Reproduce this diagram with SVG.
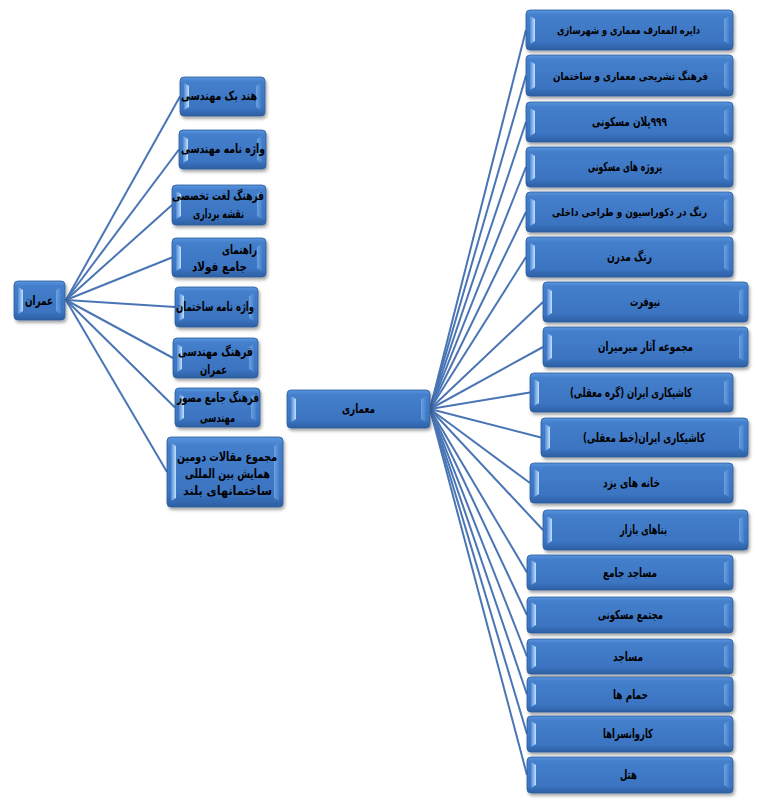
<svg xmlns="http://www.w3.org/2000/svg" width="763" height="804" viewBox="0 0 763 804">
<defs>
<linearGradient id="gO" x1="0" y1="0" x2="0" y2="1">
<stop offset="0" stop-color="#5a95de"/><stop offset="0.12" stop-color="#447fcc"/><stop offset="0.8" stop-color="#3b74c1"/><stop offset="1" stop-color="#2d5fa3"/>
</linearGradient>
<linearGradient id="gL" x1="0" y1="0" x2="1" y2="0">
<stop offset="0" stop-color="#4f8ad6"/><stop offset="1" stop-color="#c4e1fb"/>
</linearGradient>
<linearGradient id="gR" x1="1" y1="0" x2="0" y2="0">
<stop offset="0" stop-color="#4a84d0"/><stop offset="1" stop-color="#8cbdee"/>
</linearGradient>
<filter id="sh" x="-10%" y="-20%" width="130%" height="150%">
<feDropShadow dx="1.5" dy="2.5" stdDeviation="1.5" flood-color="#000" flood-opacity="0.35"/>
</filter>
<style>
.o{fill:url(#gO);stroke:#2c5c9c;stroke-width:0.8;filter:url(#sh)}
.bl{fill:url(#gL)}
.br{fill:url(#gR);opacity:0.6}
text{font-family:"DejaVu Sans",sans-serif;font-weight:bold;font-size:12.5px;fill:#000;text-anchor:middle;direction:rtl;unicode-bidi:embed}
text.long{font-size:11px}
#connectors line{stroke:#4a75b5;stroke-width:2}
</style>
</defs>
<rect width="763" height="804" fill="#fff"/>
<g id="connectors">
<line x1="66" y1="300" x2="180" y2="96.5"/>
<line x1="66" y1="300" x2="179" y2="149.5"/>
<line x1="66" y1="300" x2="172" y2="205"/>
<line x1="66" y1="300" x2="172" y2="257.5"/>
<line x1="66" y1="300" x2="175" y2="307"/>
<line x1="66" y1="300" x2="173" y2="358"/>
<line x1="66" y1="300" x2="175" y2="407.5"/>
<line x1="66" y1="300" x2="167" y2="472"/>
<line x1="430" y1="409" x2="526" y2="30"/>
<line x1="430" y1="409" x2="526" y2="75.5"/>
<line x1="430" y1="409" x2="526" y2="122"/>
<line x1="430" y1="409" x2="526" y2="167"/>
<line x1="430" y1="409" x2="526" y2="212"/>
<line x1="430" y1="409" x2="526" y2="257"/>
<line x1="430" y1="409" x2="543" y2="302"/>
<line x1="430" y1="409" x2="543" y2="347"/>
<line x1="430" y1="409" x2="530" y2="392.5"/>
<line x1="430" y1="409" x2="541" y2="437.5"/>
<line x1="430" y1="409" x2="530" y2="483"/>
<line x1="430" y1="409" x2="543" y2="530"/>
<line x1="430" y1="409" x2="527" y2="572.5"/>
<line x1="430" y1="409" x2="527" y2="615"/>
<line x1="430" y1="409" x2="527" y2="656.5"/>
<line x1="430" y1="409" x2="527" y2="694.5"/>
<line x1="430" y1="409" x2="527" y2="734"/>
<line x1="430" y1="409" x2="527" y2="775"/>
</g>

<g id="n-omran"><rect class="o" x="14" y="281" width="51" height="39" rx="4"/><path class="bl" d="M18 287 L23 290 V311 L18 314Z"/><path class="br" d="M61 287 L56 290 V311 L61 314Z"/><text x="39" y="305" textLength="28" lengthAdjust="spacingAndGlyphs">عمران</text></g>
<g id="n-memari"><rect class="o" x="287" y="390" width="143" height="38" rx="4"/><path class="bl" d="M291 396 L296 399 V419 L291 422Z"/><path class="br" d="M426 396 L421 399 V419 L426 422Z"/><text x="358.5" y="413" textLength="33" lengthAdjust="spacingAndGlyphs">معماری</text></g>

<g id="n-l1"><rect class="o" x="180" y="77" width="85" height="39" rx="4"/><path class="bl" d="M184 83 L189 86 V107 L184 110Z"/><path class="br" d="M261 83 L256 86 V107 L261 110Z"/><text x="219" y="100" textLength="76" lengthAdjust="spacingAndGlyphs">هند بک مهندسی</text></g>
<g id="n-l2"><rect class="o" x="179" y="130" width="87" height="39" rx="4"/><path class="bl" d="M183 136 L188 139 V160 L183 163Z"/><path class="br" d="M262 136 L257 139 V160 L262 163Z"/><text x="223" y="153" textLength="84" lengthAdjust="spacingAndGlyphs">واژه نامه مهندسی</text></g>
<g id="n-l3"><rect class="o" x="172" y="185" width="94" height="40" rx="4"/><path class="bl" d="M176 191 L181 194 V216 L176 219Z"/><path class="br" d="M262 191 L257 194 V216 L262 219Z"/><text x="218" y="200" textLength="92" lengthAdjust="spacingAndGlyphs">فرهنگ لغت تخصصی</text><text x="218.5" y="218" textLength="51" lengthAdjust="spacingAndGlyphs">نقشه برداری</text></g>
<g id="n-l4"><rect class="o" x="172" y="238" width="94" height="39" rx="4"/><path class="bl" d="M176 244 L181 247 V268 L176 271Z"/><path class="br" d="M262 244 L257 247 V268 L262 271Z"/><text x="239.5" y="254" textLength="35" lengthAdjust="spacingAndGlyphs">راهنمای</text><text x="219.5" y="271" textLength="55" lengthAdjust="spacingAndGlyphs">جامع فولاد</text></g>
<g id="n-l5"><rect class="o" x="175" y="287" width="83" height="40" rx="4"/><path class="bl" d="M179 293 L184 296 V318 L179 321Z"/><path class="br" d="M254 293 L249 296 V318 L254 321Z"/><text x="215" y="311" textLength="78" lengthAdjust="spacingAndGlyphs">واژه نامه ساختمان</text></g>
<g id="n-l6"><rect class="o" x="173" y="338" width="85" height="40" rx="4"/><path class="bl" d="M177 344 L182 347 V369 L177 372Z"/><path class="br" d="M254 344 L249 347 V369 L254 372Z"/><text x="215.5" y="356" textLength="75" lengthAdjust="spacingAndGlyphs">فرهنگ مهندسی</text><text x="213.5" y="374" textLength="27" lengthAdjust="spacingAndGlyphs">عمران</text></g>
<g id="n-l7"><rect class="o" x="175" y="388" width="85" height="39" rx="4"/><path class="bl" d="M179 394 L184 397 V418 L179 421Z"/><path class="br" d="M256 394 L251 397 V418 L256 421Z"/><text x="218" y="402" textLength="82" lengthAdjust="spacingAndGlyphs">فرهنگ جامع مصور</text><text x="217.5" y="422" textLength="35" lengthAdjust="spacingAndGlyphs">مهندسی</text></g>
<g id="n-l8"><rect class="o" x="167" y="437" width="116" height="70" rx="4"/><path class="bl" d="M171 443 L176 446 V498 L171 501Z"/><path class="br" d="M279 443 L274 446 V498 L279 501Z"/><text x="227" y="461" textLength="100" lengthAdjust="spacingAndGlyphs">مجموع مقالات دومین</text><text x="227.5" y="478" textLength="85" lengthAdjust="spacingAndGlyphs">همایش بین المللی</text><text x="227.5" y="495" textLength="89" lengthAdjust="spacingAndGlyphs">ساختمانهای بلند</text></g>

<g id="n-r1"><rect class="o" x="526" y="10" width="207" height="40" rx="4"/><path class="bl" d="M530 16 L535 19 V41 L530 44Z"/><path class="br" d="M729 16 L724 19 V41 L729 44Z"/><text class="long" x="628.5" y="34" textLength="143" lengthAdjust="spacingAndGlyphs">دایره المعارف معماری و شهرسازی</text></g>
<g id="n-r2"><rect class="o" x="526" y="55" width="207" height="41" rx="4"/><path class="bl" d="M530 61 L535 64 V87 L530 90Z"/><path class="br" d="M729 61 L724 64 V87 L729 90Z"/><text class="long" x="630.5" y="79.5" textLength="155" lengthAdjust="spacingAndGlyphs">فرهنگ تشریحی معماری و ساختمان</text></g>
<g id="n-r3"><rect class="o" x="526" y="102" width="207" height="40" rx="4"/><path class="bl" d="M530 108 L535 111 V133 L530 136Z"/><path class="br" d="M729 108 L724 111 V133 L729 136Z"/><text x="629.5" y="126" textLength="75" lengthAdjust="spacingAndGlyphs">۹۹۹پلان مسکونی</text></g>
<g id="n-r4"><rect class="o" x="526" y="147" width="207" height="40" rx="4"/><path class="bl" d="M530 153 L535 156 V178 L530 181Z"/><path class="br" d="M729 153 L724 156 V178 L729 181Z"/><text x="625" y="171" textLength="74" lengthAdjust="spacingAndGlyphs">پروژه های مسکونی</text></g>
<g id="n-r5"><rect class="o" x="526" y="192" width="207" height="40" rx="4"/><path class="bl" d="M530 198 L535 201 V223 L530 226Z"/><path class="br" d="M729 198 L724 201 V223 L729 226Z"/><text class="long" x="629.5" y="216" textLength="155" lengthAdjust="spacingAndGlyphs">رنگ در دکوراسیون و طراحی داخلی</text></g>
<g id="n-r6"><rect class="o" x="526" y="237" width="207" height="40" rx="4"/><path class="bl" d="M530 243 L535 246 V268 L530 271Z"/><path class="br" d="M729 243 L724 246 V268 L729 271Z"/><text x="629.5" y="261" textLength="45" lengthAdjust="spacingAndGlyphs">رنگ مدرن</text></g>
<g id="n-r7"><rect class="o" x="543" y="282" width="205" height="40" rx="4"/><path class="bl" d="M547 288 L552 291 V313 L547 316Z"/><path class="br" d="M744 288 L739 291 V313 L744 316Z"/><text x="645" y="306" textLength="30" lengthAdjust="spacingAndGlyphs">نیوفرت</text></g>
<g id="n-r8"><rect class="o" x="543" y="327" width="205" height="40" rx="4"/><path class="bl" d="M547 333 L552 336 V358 L547 361Z"/><path class="br" d="M744 333 L739 336 V358 L744 361Z"/><text x="645.5" y="351" textLength="95" lengthAdjust="spacingAndGlyphs">مجموعه آثار میرمیران</text></g>
<g id="n-r9"><rect class="o" x="530" y="373" width="203" height="39" rx="4"/><path class="bl" d="M534 379 L539 382 V403 L534 406Z"/><path class="br" d="M729 379 L724 382 V403 L729 406Z"/><text x="631" y="396.5" textLength="122" lengthAdjust="spacingAndGlyphs">کاشیکاری ایران (گره معقلی)</text></g>
<g id="n-r10"><rect class="o" x="541" y="418" width="207" height="39" rx="4"/><path class="bl" d="M545 424 L550 427 V448 L545 451Z"/><path class="br" d="M744 424 L739 427 V448 L744 451Z"/><text x="644" y="441.5" textLength="122" lengthAdjust="spacingAndGlyphs">کاشیکاری ایران(خط معقلی)</text></g>
<g id="n-r11"><rect class="o" x="530" y="463" width="203" height="40" rx="4"/><path class="bl" d="M534 469 L539 472 V494 L534 497Z"/><path class="br" d="M729 469 L724 472 V494 L729 497Z"/><text x="631.5" y="487" textLength="57" lengthAdjust="spacingAndGlyphs">خانه های یزد</text></g>
<g id="n-r12"><rect class="o" x="543" y="510" width="205" height="40" rx="4"/><path class="bl" d="M547 516 L552 519 V541 L547 544Z"/><path class="br" d="M744 516 L739 519 V541 L744 544Z"/><text x="643.5" y="534" textLength="47" lengthAdjust="spacingAndGlyphs">بناهای بازار</text></g>
<g id="n-r13"><rect class="o" x="527" y="555" width="206" height="35" rx="4"/><path class="bl" d="M531 560 L536 563 V582 L531 585Z"/><path class="br" d="M729 560 L724 563 V582 L729 585Z"/><text x="630" y="576.5" textLength="54" lengthAdjust="spacingAndGlyphs">مساجد جامع</text></g>
<g id="n-r14"><rect class="o" x="527" y="597" width="206" height="36" rx="4"/><path class="bl" d="M531 602 L536 605 V625 L531 628Z"/><path class="br" d="M729 602 L724 605 V625 L729 628Z"/><text x="630.5" y="619" textLength="65" lengthAdjust="spacingAndGlyphs">مجتمع مسکونی</text></g>
<g id="n-r15"><rect class="o" x="527" y="639" width="206" height="35" rx="4"/><path class="bl" d="M531 644 L536 647 V666 L531 669Z"/><path class="br" d="M729 644 L724 647 V666 L729 669Z"/><text x="628" y="660.5" textLength="30" lengthAdjust="spacingAndGlyphs">مساجد</text></g>
<g id="n-r16"><rect class="o" x="527" y="677" width="206" height="35" rx="4"/><path class="bl" d="M531 682 L536 685 V704 L531 707Z"/><path class="br" d="M729 682 L724 685 V704 L729 707Z"/><text x="630.5" y="698.5" textLength="35" lengthAdjust="spacingAndGlyphs">حمام ها</text></g>
<g id="n-r17"><rect class="o" x="527" y="716" width="206" height="36" rx="4"/><path class="bl" d="M531 721 L536 724 V744 L531 747Z"/><path class="br" d="M729 721 L724 724 V744 L729 747Z"/><text x="628" y="738" textLength="50" lengthAdjust="spacingAndGlyphs">کاروانسراها</text></g>
<g id="n-r18"><rect class="o" x="527" y="757" width="206" height="36" rx="4"/><path class="bl" d="M531 762 L536 765 V785 L531 788Z"/><path class="br" d="M729 762 L724 765 V785 L729 788Z"/><text x="628.5" y="779" textLength="17" lengthAdjust="spacingAndGlyphs">هتل</text></g>
</svg>
